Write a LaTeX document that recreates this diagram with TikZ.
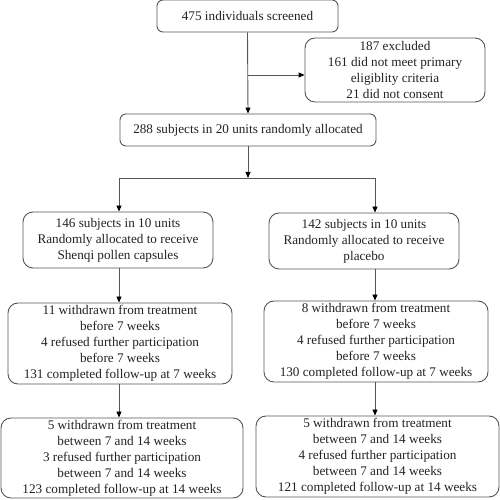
\documentclass[tikz,border=0pt]{standalone}
\usepackage{fontspec}
\setmainfont{Liberation Serif}
\usetikzlibrary{arrows.meta}
\definecolor{linegray}{HTML}{555555}
\definecolor{txt}{HTML}{222222}
\tikzset{
  box/.style={draw=linegray, line width=0.9pt, rounded corners=6pt, align=center,
    inner sep=0pt, text=txt, font=\fontsize{13.2}{16}\selectfont},
  bigbox/.style={box, rounded corners=10pt},
  arr/.style={draw=linegray, line width=0.9pt, -{Triangle[length=6pt,width=5pt,fill=black,color=black]}},
  ln/.style={draw=linegray, line width=0.9pt}
}
\begin{document}
\begin{tikzpicture}[x=1pt,y=1pt]
\useasboundingbox (0,0) rectangle (499,500);
\node[box, minimum width=181pt, minimum height=32pt] (b1) at (247.5,484) {475 individuals screened};
\node[bigbox, minimum width=180pt, minimum height=64pt] (ex) at (395,430) {187 excluded\\161 did not meet primary\\eligiblity criteria\\21 did not consent};
\node[box, minimum width=256pt, minimum height=32pt] (b2) at (248,370) {288 subjects in 20 units randomly allocated};
\node[bigbox, minimum width=190pt, minimum height=56pt] (L1) at (118,260) {146 subjects in 10 units\\Randomly allocated to receive\\Shenqi pollen capsules};
\node[bigbox, minimum width=190pt, minimum height=56pt] (R1) at (364,259) {142 subjects in 10 units\\Randomly allocated to receive\\placebo};
\node[bigbox, minimum width=224pt, minimum height=81pt] (L2) at (120,156.5) {11 withdrawn from treatment\\before 7 weeks\\4 refused further participation\\before 7 weeks\\131 completed follow-up at 7 weeks};
\node[bigbox, minimum width=224pt, minimum height=81pt] (R2) at (376,158.5) {8 withdrawn from treatment\\before 7 weeks\\4 refused further participation\\before 7 weeks\\130 completed follow-up at 7 weeks};
\node[bigbox, minimum width=242pt, minimum height=80pt] (L3) at (122,42) {5 withdrawn from treatment\\between 7 and 14 weeks\\3 refused further participation\\between 7 and 14 weeks\\123 completed follow-up at 14 weeks};
\node[bigbox, minimum width=243pt, minimum height=81pt] (R3) at (377.5,43.5) {5 withdrawn from treatment\\between 7 and 14 weeks\\4 refused further participation\\between 7 and 14 weeks\\121 completed follow-up at 14 weeks};
\coordinate (br) at (247.5,425);
\coordinate (split) at (248,322);
\coordinate (sl) at (119,322);
\coordinate (sr) at (375,322);
\draw[arr] (b1.south) -- (b2.north);
\draw[arr] (br) -- (br -| ex.west);
\draw[arr] (b2.south) -- (split);
\draw[ln] (sl) -- (sr);
\draw[arr] (sl) -- (L1.north -| sl);
\draw[arr] (sr) -- (R1.north -| sr);
\draw[arr] (L1.south -| sl) -- (L2.north -| sl);
\draw[arr] (R1.south -| sr) -- (R2.north -| sr);
\draw[arr] (L2.south -| sl) -- (L3.north -| sl);
\draw[arr] (R2.south -| sr) -- (R3.north -| sr);
\end{tikzpicture}
\end{document}
